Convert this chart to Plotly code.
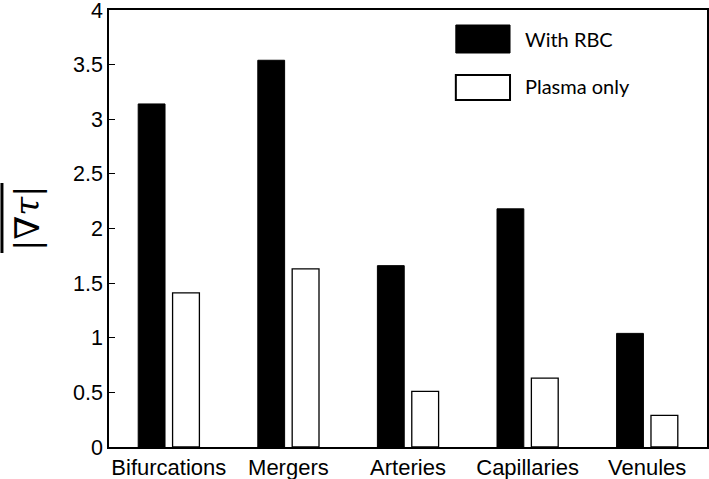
import plotly.graph_objects as go

categories = ["Bifurcations", "Mergers", "Arteries", "Capillaries", "Venules"]
with_rbc = [3.14, 3.54, 1.66, 2.18, 1.04]
plasma_only = [1.41, 1.63, 0.51, 0.63, 0.29]
series_names = ["With RBC", "Plasma only"]
y_tickvals = [0, 0.5, 1, 1.5, 2, 2.5, 3, 3.5, 4]
y_ticktext = ["0", "0.5", "1", "1.5", "2", "2.5", "3", "3.5", "4"]

fig = go.Figure()
fig.add_trace(go.Bar(x=categories, y=with_rbc, name=series_names[0],
                     marker=dict(color="black", line=dict(color="black", width=1))))
fig.add_trace(go.Bar(x=categories, y=plasma_only, name=series_names[1],
                     marker=dict(color="white", line=dict(color="black", width=1.3))))

fig.update_layout(
    width=709, height=479,
    margin=dict(l=109, r=2, t=10, b=32),
    paper_bgcolor="white", plot_bgcolor="white",
    barmode="group", bargap=0.425, bargroupgap=0.22,
    showlegend=False,
    font=dict(family="Liberation Sans", color="black"),
)
fig.update_xaxes(range=[-0.5, 4.5], showline=True, mirror=True, linecolor="black",
                 linewidth=1.5, ticks="", showgrid=False, automargin=False,
                 tickfont=dict(size=22, family="Liberation Sans", color="black"))
fig.update_yaxes(range=[0, 4], tickvals=y_tickvals, ticktext=y_ticktext,
                 showline=True, mirror=True, linecolor="black", linewidth=1.5,
                 ticks="inside", ticklen=6, tickwidth=1.2, tickcolor="black",
                 showgrid=False, zeroline=False, automargin=False,
                 ticklabeloverflow="allow",
                 tickfont=dict(size=21.5, family="Liberation Sans", color="black"))

# legend drawn manually (large swatches); paper y mapped from pixel rows
def py(pix):
    return (447 - pix) / 437.0

fig.add_shape(type="rect", xref="paper", yref="paper", x0=0.580, x1=0.6706,
              y0=py(53), y1=py(25), fillcolor="black", line=dict(color="black", width=1))
fig.add_shape(type="rect", xref="paper", yref="paper", x0=0.580, x1=0.6706,
              y0=py(100), y1=py(75), fillcolor="white", line=dict(color="black", width=2))
fig.add_annotation(xref="paper", yref="paper", x=0.692, y=py(39), xanchor="left",
                   yanchor="middle", showarrow=False, text=series_names[0],
                   font=dict(family="Lato", size=20, color="black"))
fig.add_annotation(xref="paper", yref="paper", x=0.692, y=py(86), xanchor="left",
                   yanchor="middle", showarrow=False, text=series_names[1],
                   font=dict(family="Lato", size=20, color="black"))

# y-axis label: overline |∇τ|
fig.add_annotation(xref="paper", yref="paper", x=-0.137, y=py(218), textangle=-90,
                   xanchor="center", yanchor="middle",
                   showarrow=False, text="|<i>∇τ</i>|",
                   font=dict(family="DejaVu Serif", size=34, color="black"))
fig.add_shape(type="line", xref="paper", yref="paper", x0=-0.179, x1=-0.179,
              y0=py(253), y1=py(183), line=dict(color="black", width=3))

fig.write_html("out.html", config={"displayModeBar": False},
               post_script="document.body.style.margin='0';")
